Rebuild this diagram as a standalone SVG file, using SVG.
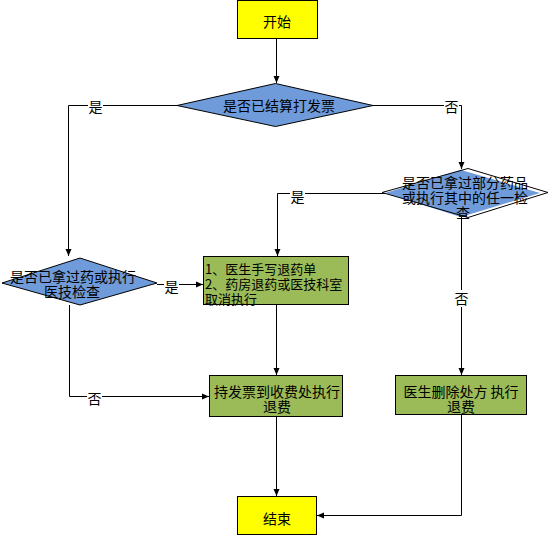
<svg xmlns="http://www.w3.org/2000/svg" width="551" height="536" viewBox="0 0 551 536">
<defs>
<marker id="arr" markerWidth="8" markerHeight="8" refX="7" refY="4" orient="auto" markerUnits="userSpaceOnUse">
<path d="M0,1 L7,4 L0,7 Z" fill="#000"/>
</marker>
<style>
text{font-family:"Noto Sans CJK SC","Liberation Sans",sans-serif;font-size:14px;fill:#000}
.c{text-anchor:middle;dominant-baseline:central}
.l{dominant-baseline:central;font-size:13px}
.y{fill:#FFFF00;stroke:#000;stroke-width:1}
.g{fill:#9BBB59;stroke:#000;stroke-width:1}
.b{fill:#6F9BDB;stroke:#000;stroke-width:1}
.e{fill:none;stroke:#000;stroke-width:1}
.bg{fill:#fff}
</style>
</defs>
<rect width="551" height="536" fill="#fff"/>
<g id="connectors" class="e">
<path d="M276.5,39 V83" marker-end="url(#arr)"/>
<path d="M177,105.5 H68.5 V256" marker-end="url(#arr)"/>
<path d="M373,105.5 H461.5 V169" marker-end="url(#arr)"/>
<path d="M385,193.5 H277.5 V256" marker-end="url(#arr)"/>
<path d="M461.5,217 V375" marker-end="url(#arr)"/>
<path d="M157,284.5 H203" marker-end="url(#arr)"/>
<path d="M69.5,305 V396.5 H209" marker-end="url(#arr)"/>
<path d="M276.5,305 V375" marker-end="url(#arr)"/>
<path d="M276.5,417 V496" marker-end="url(#arr)"/>
<path d="M461.5,415 V515.5 H317" marker-end="url(#arr)"/>
</g>
<g id="labels">
<rect class="bg" x="88" y="97" width="15" height="17"/><text class="c" x="95.5" y="106">是</text>
<rect class="bg" x="444" y="97" width="15" height="17"/><text class="c" x="451.5" y="106">否</text>
<rect class="bg" x="290" y="188" width="15" height="17"/><text class="c" x="297.5" y="196">是</text>
<rect class="bg" x="454" y="290" width="15" height="17"/><text class="c" x="461.5" y="298">否</text>
<rect class="bg" x="164" y="278" width="15" height="17"/><text class="c" x="171.5" y="286">是</text>
<rect class="bg" x="87" y="390" width="15" height="17"/><text class="c" x="94.5" y="398">否</text>
</g>
<g id="start">
<rect class="y" x="237.5" y="0.5" width="80" height="38"/>
<text class="c" x="277" y="21">开始</text>
</g>
<g id="d1">
<polygon class="b" points="177,105.5 275.5,83.5 373,105.5 275.5,126.5"/>
<text class="c" x="279" y="105">是否已结算打发票</text>
</g>
<g id="d2">
<polygon points="385,193 461,170 540,193 461,217" fill="#6F9BDB"/>
<polygon class="e" points="382,192.5 468,168.5 548,192.5 468,217.5"/>
<text class="c" x="465" y="182">是否已拿过部分药品</text>
<text class="c" x="465" y="197">或执行其中的任一检</text>
<text class="c" x="463" y="212">查</text>
</g>
<g id="d3">
<polygon class="b" points="2,283 80,258 157,283 80,305"/>
<text class="c" x="73" y="276">是否已拿过药或执行</text>
<text class="c" x="72" y="291">医技检查</text>
</g>
<g id="box1">
<rect class="g" x="203.5" y="256.5" width="145" height="48"/>
<text class="l" x="205" y="268">1、医生手写退药单</text>
<text class="l" x="205" y="283">2、药房退药或医技科室</text>
<text class="l" x="205" y="298">取消执行</text>
</g>
<g id="box2">
<rect class="g" x="209.5" y="375.5" width="133" height="41"/>
<text class="c" x="277" y="391">持发票到收费处执行</text>
<text class="c" x="277" y="406">退费</text>
</g>
<g id="box3">
<rect class="g" x="395.5" y="375.5" width="131" height="39"/>
<text class="c" x="461" y="391">医生删除处方 执行</text>
<text class="c" x="461" y="406">退费</text>
</g>
<g id="end">
<rect class="y" x="237.5" y="496.5" width="79" height="38"/>
<text class="c" x="277" y="518">结束</text>
</g>
</svg>
